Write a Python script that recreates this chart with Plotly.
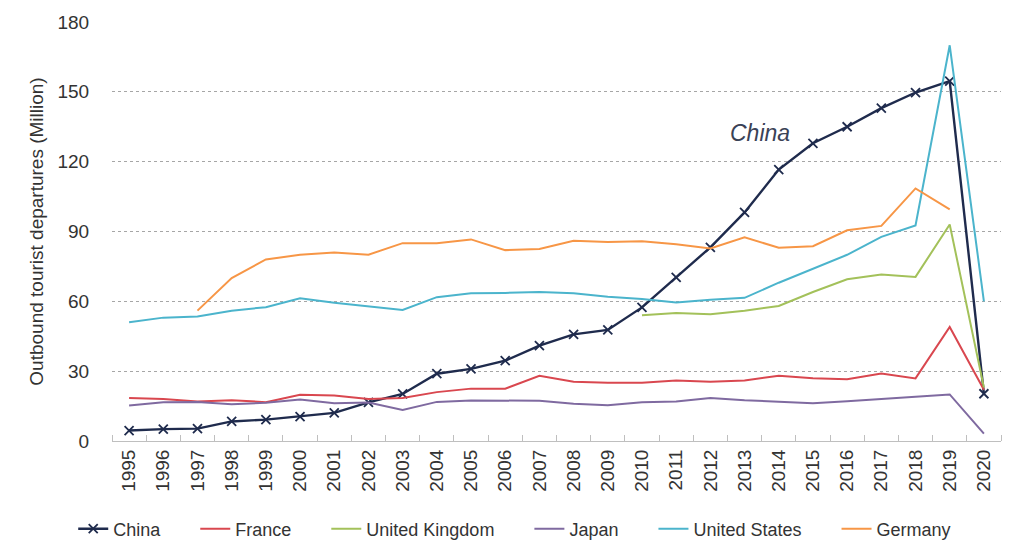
import plotly.graph_objects as go

years = list(range(1995, 2021))

china = [4.5, 5.1, 5.3, 8.4, 9.2, 10.5, 12.1, 16.6, 20.2, 28.9, 31.0, 34.5, 41.0, 45.8, 47.7, 57.4,
         70.3, 83.2, 98.2, 116.6, 127.9, 135.0, 143.0, 149.7, 154.6, 20.3]
france = [18.5, 18.0, 17.0, 17.5, 16.7, 19.9, 19.5, 18.0, 18.5, 21.0, 22.5, 22.5, 28.0, 25.5, 25.0, 25.0,
          26.0, 25.5, 26.0, 28.0, 27.0, 26.5, 29.0, 26.9, 49.0, 22.0]
uk = [None] * 15 + [54.0, 55.0, 54.5, 56.0, 58.0, 64.0, 69.5, 71.5, 70.5, 93.0, 23.0]
japan = [15.3, 16.7, 16.8, 15.8, 16.4, 17.8, 16.2, 16.5, 13.3, 16.8, 17.4, 17.5, 17.3, 16.0, 15.4, 16.6,
         17.0, 18.5, 17.5, 16.9, 16.2, 17.1, 17.9, 19.0, 20.0, 3.2]
usa = [51.0, 53.0, 53.5, 56.0, 57.5, 61.3, 59.4, 58.0, 56.3, 61.8, 63.5, 63.6, 64.0, 63.5, 62.0, 61.0,
       59.5, 60.7, 61.5, 68.0, 74.0, 80.0, 87.7, 92.6, 170.0, 60.0]
germany = [None, None, 56.0, 70.0, 78.0, 80.0, 81.0, 80.0, 85.0, 85.0, 86.6, 82.0, 82.5, 86.0, 85.5, 85.8,
           84.5, 82.7, 87.5, 83.0, 83.7, 90.5, 92.4, 108.5, 99.5, None]

y_ticks = [0, 30, 60, 90, 120, 150, 180]

PAD = "\u00a0" * 6
FONT = "Liberation Sans, Arial"

fig = go.Figure()
fig.add_trace(go.Scatter(x=years, y=china, name="China" + PAD, mode="lines+markers",
                         line=dict(color="#1f2b4d", width=2.4),
                         marker=dict(symbol="x-thin", size=9, line=dict(width=1.8, color="#1f2b4d"))))
fig.add_trace(go.Scatter(x=years, y=france, name="France" + PAD, mode="lines",
                         line=dict(color="#d9474f", width=2)))
fig.add_trace(go.Scatter(x=years, y=uk, name="United Kingdom" + PAD, mode="lines",
                         line=dict(color="#a3c15a", width=2)))
fig.add_trace(go.Scatter(x=years, y=japan, name="Japan" + PAD, mode="lines",
                         line=dict(color="#7f6aa0", width=2)))
fig.add_trace(go.Scatter(x=years, y=usa, name="United States" + PAD, mode="lines",
                         line=dict(color="#4bb4cc", width=2)))
fig.add_trace(go.Scatter(x=years, y=germany, name="Germany", mode="lines",
                         line=dict(color="#f79646", width=2)))

fig.add_annotation(x=2013.45, y=132.3, text="<i>China</i>", showarrow=False,
                   font=dict(size=23, color="#3a4256", family=FONT))

fig.update_layout(
    width=1024, height=559,
    margin=dict(l=112, r=23, t=22, b=118),
    paper_bgcolor="white", plot_bgcolor="white",
    font=dict(family=FONT, color="#333333"),
    showlegend=True,
    legend=dict(orientation="h", x=0.453, xanchor="center", y=-0.21, yanchor="middle",
                font=dict(size=18, color="#333333"), traceorder="normal",
                itemwidth=30, tracegroupgap=0),
)
fig.update_xaxes(
    range=[1994.5, 2020.5], tickmode="array", tickvals=years, ticktext=[str(y) for y in years],
    tickangle=-90, tickfont=dict(size=19, color="#333333"), showgrid=False, ticks="",
    showline=True, linecolor="#bfbfbf", linewidth=1, zeroline=False,
    minor=dict(ticks="inside", tick0=1994.5, dtick=1, ticklen=6, tickcolor="#bfbfbf", showgrid=False),
)
fig.update_yaxes(
    range=[0, 180], tickvals=y_ticks, tickfont=dict(size=19, color="#333333"),
    showgrid=True, gridcolor="#a6a6a6", griddash="dot", gridwidth=1, zeroline=False,
    title=dict(text="Outbound tourist departures (Million)", font=dict(size=19, color="#333333"), standoff=8),
    ticks="outside", ticklen=18, tickcolor="rgba(0,0,0,0)", showline=False,
)

fig.write_html("out.html", config={"displayModeBar": False},
               post_script="document.body.style.margin='0';")
